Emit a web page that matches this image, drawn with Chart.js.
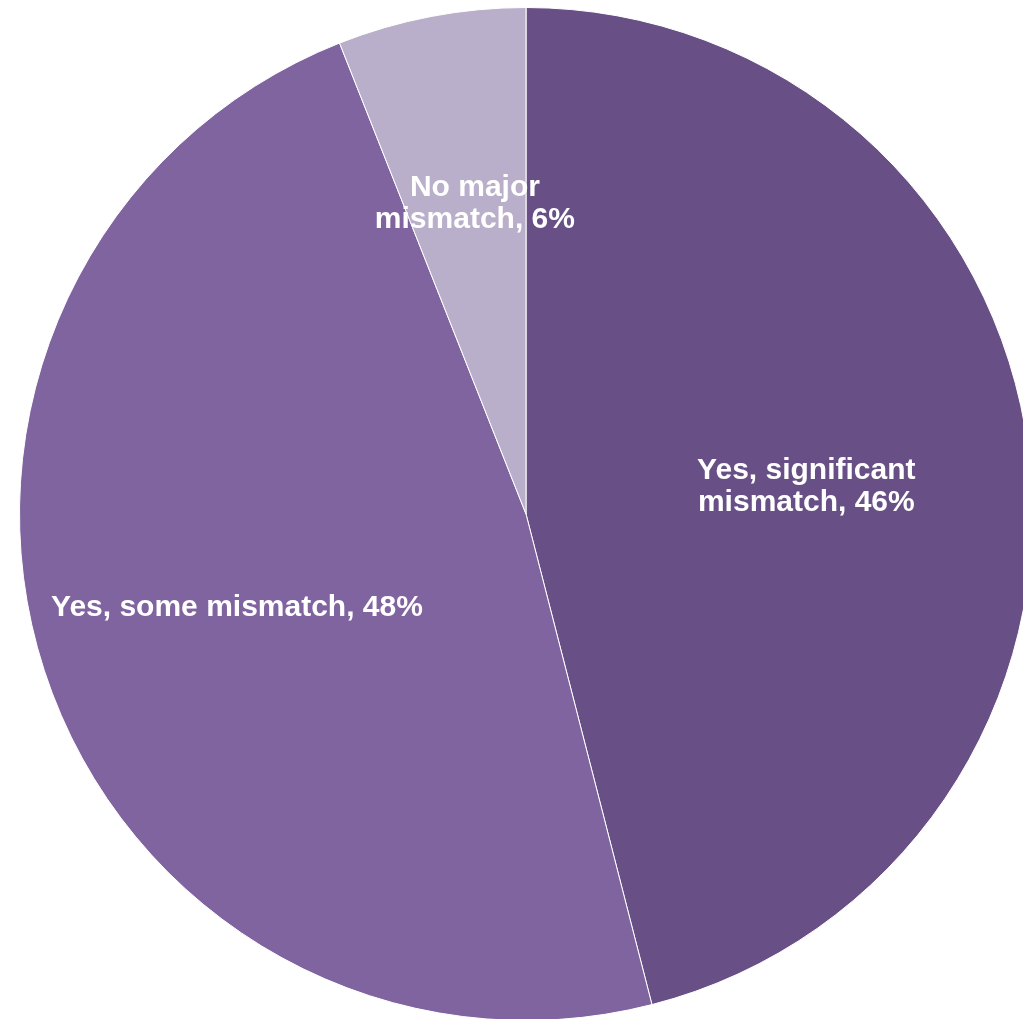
<!DOCTYPE html>
<html>
<head>
<meta charset="utf-8">
<script src="https://cdn.jsdelivr.net/npm/chart.js@4.4.1/dist/chart.umd.min.js"></script>
<style>
    html, body { margin: 0; padding: 0; background: #ffffff; overflow: hidden; }
    #wrap { position: absolute; left: 0; top: 0; width: 1052px; height: 1028px; }
</style>
</head>
<body>
<div id="wrap"><canvas id="mismatchChart" width="1052" height="1028"></canvas></div>
<script>
// Survey answers, clockwise from 12 o'clock
const categories = ["Yes, significant mismatch", "Yes, some mismatch", "No major mismatch"];
const shares = [46, 48, 6];
const sliceColors = ["#685086", "#7F64A0", "#B9AFCA"];

// Label placement: fraction of the radius, small turn off the mid-angle (radians), wrap width
const labelRadius = [0.556, 0.6, 0.62];
const labelTurn = [0.03, 0, 0.025];
const labelWrap = [290, 520, 260];

function wrapText(ctx, text, maxWidth) {
    const words = text.split(" ");
    const lines = [];
    let line = "";
    words.forEach(w => {
        const test = line ? line + " " + w : w;
        if (line && ctx.measureText(test).width > maxWidth) {
            lines.push(line);
            line = w;
        } else {
            line = test;
        }
    });
    if (line) lines.push(line);
    return lines;
}

const sliceLabels = {
    id: "sliceLabels",
    afterDatasetsDraw(chart) {
        const ctx = chart.ctx;
        const meta = chart.getDatasetMeta(0);
        ctx.save();
        ctx.font = "bold 30px 'Liberation Sans', Arial, sans-serif";
        ctx.fillStyle = "#ffffff";
        ctx.textAlign = "center";
        ctx.textBaseline = "middle";
        meta.data.forEach((arc, i) => {
            const mid = (arc.startAngle + arc.endAngle) / 2 + labelTurn[i];
            const r = arc.outerRadius * labelRadius[i];
            const x = arc.x + Math.cos(mid) * r;
            const y = arc.y + Math.sin(mid) * r;
            const text = categories[i] + ", " + shares[i] + "%";
            const lines = wrapText(ctx, text, labelWrap[i]);
            const lh = 32;
            lines.forEach((ln, j) => {
                ctx.fillText(ln, x, y + (j - (lines.length - 1) / 2) * lh);
            });
        });
        ctx.restore();
    }
};

new Chart(document.getElementById("mismatchChart").getContext("2d"), {
    type: "pie",
    data: {
        labels: categories,
        datasets: [{
            data: shares,
            backgroundColor: sliceColors,
            borderColor: "#ffffff",
            borderWidth: 1
        }]
    },
    options: {
        responsive: false,
        animation: false,
        layout: { padding: { top: 7, bottom: 7, left: 19, right: 19 } },
        plugins: {
            legend: { display: false },
            tooltip: { enabled: false }
        }
    },
    plugins: [sliceLabels]
});
</script>
</body>
</html>
